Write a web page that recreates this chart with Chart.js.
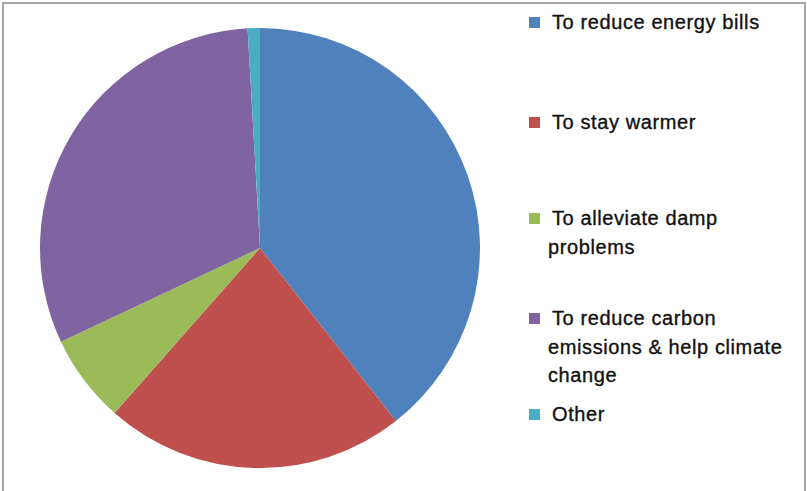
<!DOCTYPE html>
<html>
<head>
<meta charset="utf-8">
<script src="https://cdn.jsdelivr.net/npm/chart.js@4/dist/chart.umd.min.js"></script>
<style>
  html, body { margin: 0; padding: 0; background: #fff; }
  body { width: 807px; height: 491px; position: relative; overflow: hidden; }
  #frame {
    position: absolute; left: 2px; top: 2px; width: 800px; height: 520px;
    border: 2px solid #a6a6a6; box-sizing: content-box;
  }
  #pieBox { position: absolute; left: 40px; top: 28px; width: 440px; height: 440px; }
  .item { position: absolute; left: 529px; font-family: "Liberation Sans", Arial, sans-serif;
    font-size: 20px; line-height: 28.5px; letter-spacing: 0.6px; color: #111;
    -webkit-text-stroke: 0.35px #111; }
  .item .mark { position: absolute; left: 0; top: 9px; width: 11px; height: 11px; }
  .item .txt { margin-left: 19px; width: 270px; text-indent: 4px; }
</style>
</head>
<body>
<div id="frame"></div>
<div id="pieBox"><canvas id="pie"></canvas></div>
<div id="legend"></div>
<script>
// reasons for installing insulation (share of responses, %)
const labels = [
  'To reduce energy bills',
  'To stay warmer',
  'To alleviate damp problems',
  'To reduce carbon emissions & help climate change',
  'Other'
];
const values = [39.4, 22.1, 6.5, 31.1, 0.9];
const colors = ['#4f81bd', '#c0504d', '#9bbb59', '#8064a2', '#4bacc6'];

// legend lines as wrapped in the original
const legendLines = [
  ['To reduce energy bills'],
  ['To stay warmer'],
  ['To alleviate damp', 'problems'],
  ['To reduce carbon', 'emissions & help climate', 'change'],
  ['Other']
];
const legendTops = [8, 108, 204, 304, 400];

new Chart(document.getElementById('pie'), {
  type: 'pie',
  data: {
    labels: labels,
    datasets: [{
      data: values,
      backgroundColor: colors,
      borderWidth: 0
    }]
  },
  options: {
    responsive: true,
    maintainAspectRatio: false,
    animation: false,
    layout: { padding: 0 },
    plugins: {
      legend: { display: false },
      tooltip: { enabled: false }
    }
  }
});

let legend = document.getElementById('legend');
legendLines.forEach(function(lines, i) {
  let item = document.createElement('div');
  item.className = 'item';
  item.style.top = legendTops[i] + 'px';
  let mark = document.createElement('div');
  mark.className = 'mark';
  mark.style.background = colors[i];
  let txt = document.createElement('div');
  txt.className = 'txt';
  txt.innerHTML = lines.join('<br>');
  item.appendChild(mark);
  item.appendChild(txt);
  legend.appendChild(item);
});
</script>
</body>
</html>
